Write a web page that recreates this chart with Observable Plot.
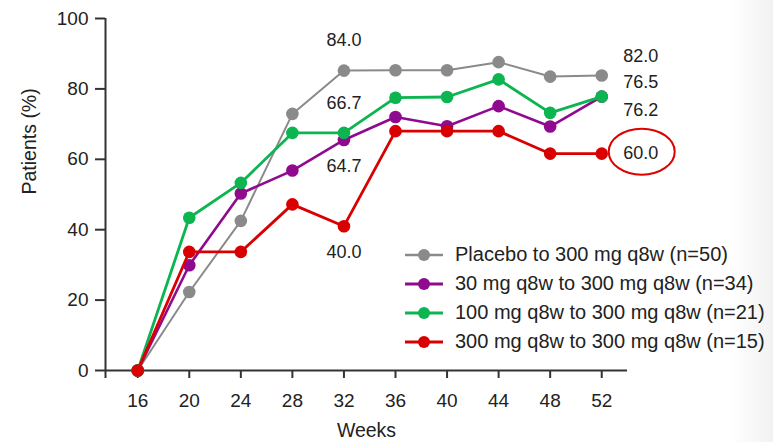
<!DOCTYPE html>
<html>
<head>
<meta charset="utf-8">
<script src="https://cdn.jsdelivr.net/npm/d3@7"></script>
<script src="https://cdn.jsdelivr.net/npm/@observablehq/plot@0.6"></script>
<style>
  html, body { margin: 0; padding: 0; }
  #wrap {
    position: relative; width: 773px; height: 442px; overflow: hidden;
    background: linear-gradient(to right, #ffffff 0px, #ffffff 730px, #f2f2f2 773px);
    font-family: "Liberation Sans", Arial, sans-serif; color: #222;
  }
  #legend { position: absolute; left: 405px; top: 240px; }
  .row { display: flex; align-items: center; height: 29px; font-size: 20px; white-space: nowrap; }
  .row svg { margin-right: 12px; }
</style>
</head>
<body>
<div id="wrap"><div id="legend"></div></div>
<script>
// ---- data ----
const weeks = [16, 20, 24, 28, 32, 36, 40, 44, 48, 52];
const seriesNames = [
  "Placebo to 300 mg q8w (n=50)",
  "30 mg q8w to 300 mg q8w (n=34)",
  "100 mg q8w to 300 mg q8w (n=21)",
  "300 mg q8w to 300 mg q8w (n=15)"
];
const placebo = [0, 22.3, 42.5, 72.9, 85.2, 85.3, 85.3, 87.6, 83.5, 83.8];
const mg30    = [0, 29.9, 50.3, 56.8, 65.5, 72.0, 69.4, 75.1, 69.3, 77.8];
const mg100   = [0, 43.4, 53.3, 67.5, 67.5, 77.5, 77.7, 82.7, 73.2, 77.8];
const mg300   = [0, 33.7, 33.7, 47.2, 41.0, 68.0, 68.0, 68.0, 61.6, 61.6];
const seriesColors = ["#8a8a8a", "#8f0a8f", "#0cb550", "#d80000"];
const yTicks = [0, 20, 40, 60, 80, 100];
// annotated values: [series index, week, text]
const annoTop   = [[0, 32, "84.0"], [2, 32, "66.7"]];
const annoBelow = [[1, 32, "64.7"], [3, 32, "40.0"]];
const annoRight = [[0, 52, "82.0"], [2, 52, "76.5"], [1, 52, "76.2"], [3, 52, "60.0"]];
const xStart = 13.5, xEnd = 54;

const allSeries = [placebo, mg30, mg100, mg300];
const rows = [];
allSeries.forEach((vals, s) => vals.forEach((v, i) => rows.push({week: weeks[i], value: v, series: seriesNames[s]})));
const valueAt = (s, w) => allSeries[s][weeks.indexOf(w)];
const mk = arr => arr.map(([s, w, t]) => ({week: w, value: valueAt(s, w), text: t}));

const font = "Liberation Sans, Arial, sans-serif";
const lineWidths = [2, 2.6, 2.8, 2.8];

// ellipse symbol
const ellipse = {
  draw(ctx) {
    const rx = 33, ry = 23, k = 0.5523;
    ctx.moveTo(rx, 0);
    ctx.bezierCurveTo(rx, ry * k, rx * k, ry, 0, ry);
    ctx.bezierCurveTo(-rx * k, ry, -rx, ry * k, -rx, 0);
    ctx.bezierCurveTo(-rx, -ry * k, -rx * k, -ry, 0, -ry);
    ctx.bezierCurveTo(rx * k, -ry, rx, -ry * k, rx, 0);
    ctx.closePath();
  }
};

const seriesMarks = seriesNames.flatMap((name, s) => {
  const d = rows.filter(r => r.series === name);
  return [
    Plot.line(d, {x: "week", y: "value", stroke: seriesColors[s], strokeWidth: lineWidths[s]}),
    Plot.dot(d, {x: "week", y: "value", fill: seriesColors[s], r: 6.3})
  ];
});

const chart = Plot.plot({
  width: 773, height: 442,
  marginLeft: 105, marginRight: 146, marginTop: 18, marginBottom: 72,
  x: {domain: [xStart, xEnd]},
  y: {domain: [0, 100]},
  style: {fontFamily: font, fontSize: "19px", color: "#222", background: "transparent", overflow: "visible"},
  marks: [
    Plot.axisY({ticks: yTicks, tickSize: 10, tickPadding: 7, label: null, stroke: "#333", strokeWidth: 2, fontSize: 19, fill: "#222"}),
    Plot.axisX({ticks: [xStart, ...weeks], tickSize: 8, tickPadding: 15, label: null, stroke: "#333", strokeWidth: 2,
      tickFormat: d => weeks.includes(d) ? String(d) : "", fontSize: 19, fill: "#222"}),
    Plot.ruleX([xStart], {y1: 0, y2: 100, stroke: "#333", strokeWidth: 2}),
    Plot.ruleY([0], {x1: xStart, x2: xEnd, stroke: "#333", strokeWidth: 2}),
    Plot.text(["Patients (%)"], {frameAnchor: "left", dx: -76, rotate: -90, fontSize: 19.5, fill: "#222"}),
    Plot.text(["Weeks"], {frameAnchor: "bottom", dy: 66, fontSize: 19.5, fill: "#222"}),
    ...seriesMarks,
    Plot.text(mk(annoTop), {x: "week", y: "value", text: "text", dy: -30, fontSize: 18, fill: "#222"}),
    Plot.text(mk(annoBelow), {x: "week", y: "value", text: "text", dy: 26, fontSize: 18, fill: "#222"}),
    Plot.text(mk(annoRight).slice(0, 1), {x: "week", y: "value", text: "text", dx: 39, dy: -19, fontSize: 18, fill: "#222"}),
    Plot.text(mk(annoRight).slice(1, 2), {x: "week", y: "value", text: "text", dx: 39, dy: -14, fontSize: 18, fill: "#222"}),
    Plot.text(mk(annoRight).slice(2, 3), {x: "week", y: "value", text: "text", dx: 39, dy: 14, fontSize: 18, fill: "#222"}),
    Plot.text(mk(annoRight).slice(3, 4), {x: "week", y: "value", text: "text", dx: 39, dy: 0, fontSize: 18, fill: "#222"}),
    Plot.dot(mk(annoRight).slice(3, 4), {x: "week", y: "value", dx: 40, dy: -2, symbol: ellipse, r: 10, stroke: "#e00000", strokeWidth: 2, fill: "none"})
  ]
});
chart.style.position = "absolute";
chart.style.left = "0px";
chart.style.top = "0px";
document.getElementById("wrap").prepend(chart);

// legend
const legend = document.getElementById("legend");
seriesNames.forEach((name, s) => {
  const row = document.createElement("div");
  row.className = "row";
  row.innerHTML = `<svg width="38" height="16"><line x1="0" x2="38" y1="8" y2="8" stroke="${seriesColors[s]}" stroke-width="${s === 0 ? 2.5 : 3}"/><circle cx="19" cy="8" r="6" fill="${seriesColors[s]}"/></svg><span>${name}</span>`;
  legend.appendChild(row);
});
</script>
</body>
</html>
